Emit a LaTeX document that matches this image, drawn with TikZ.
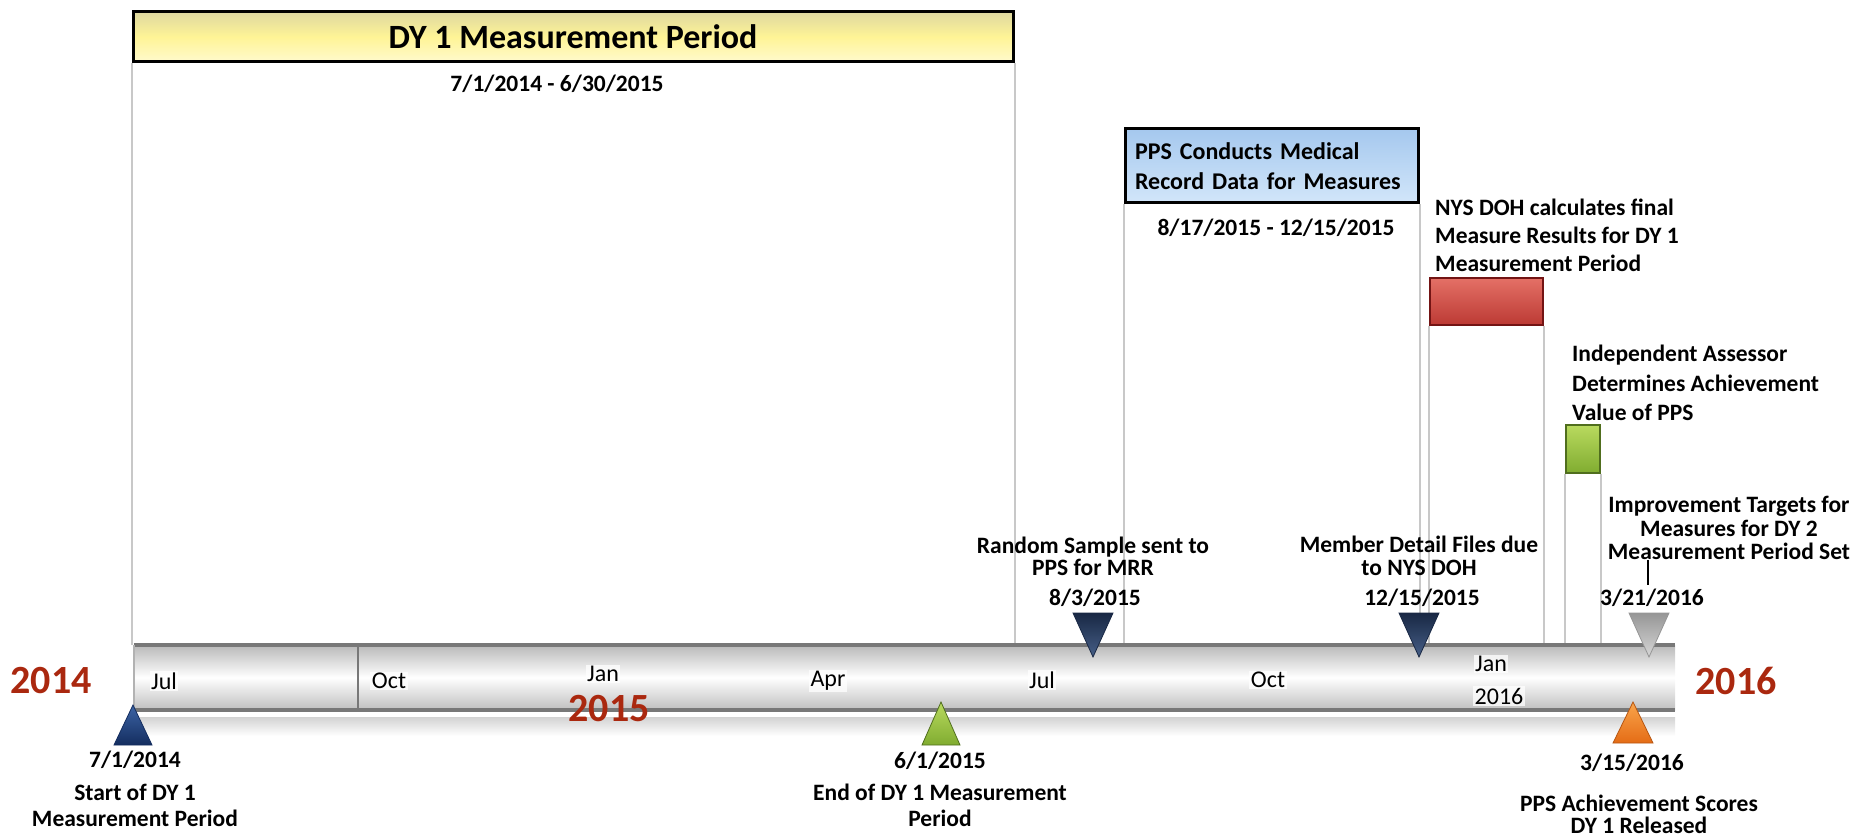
\documentclass[tikz,border=0pt]{standalone}
\usepackage{fontspec}
\setmainfont{Carlito}
\usetikzlibrary{calc}
\definecolor{yrred}{RGB}{170,40,15}
\definecolor{guidegray}{RGB}{200,200,200}
\definecolor{bardark}{RGB}{120,120,120}
\definecolor{yA}{RGB}{222,216,160}
\definecolor{yB}{RGB}{255,244,150}
\definecolor{yC}{RGB}{255,250,205}
\definecolor{bA}{RGB}{165,200,238}
\definecolor{bB}{RGB}{210,230,250}
\definecolor{rA}{RGB}{228,112,102}
\definecolor{rB}{RGB}{188,58,52}
\definecolor{rD}{RGB}{115,20,20}
\definecolor{gA}{RGB}{185,218,95}
\definecolor{gB}{RGB}{128,172,48}
\definecolor{gD}{RGB}{80,110,30}
\definecolor{navyA}{RGB}{70,95,135}
\definecolor{navyB}{RGB}{25,40,68}
\definecolor{blueA}{RGB}{60,100,165}
\definecolor{blueB}{RGB}{20,45,95}
\definecolor{orA}{RGB}{250,165,75}
\definecolor{orB}{RGB}{228,108,22}
\definecolor{grA}{RGB}{215,215,215}
\definecolor{grB}{RGB}{150,150,150}
\begin{document}
\begin{tikzpicture}[x=1pt,y=-1pt,
  lbl/.style={font=\fontsize{23.5}{#1}\selectfont\bfseries, align=center, inner sep=0pt},
  lbl/.default=24,
  guide/.style={draw=guidegray, line width=2pt},
  month/.style={font=\fontsize{24}{26}\selectfont, inner sep=1.5pt, fill=white, fill opacity=0.75, text opacity=1},
  yearlbl/.style={font=\fontsize{40}{44}\selectfont\bfseries, text=yrred, inner sep=0pt},
  tickline/.style={draw=black, line width=1.5pt}]
\useasboundingbox (0,0) rectangle (1873,837);

% period boxes
\node[draw=black, line width=3pt, top color=yA, bottom color=yC, middle color=yB,
      minimum width=880pt, minimum height=50pt, inner sep=0pt,
      font=\fontsize{34}{36}\selectfont\bfseries] (ybox) at (573,37) {DY 1 Measurement Period};
\node[lbl] (r1) at (557,84) {7/1/2014 - 6/30/2015};

\node[draw=black, line width=3pt, top color=bA, bottom color=bB,
      text width=273pt, inner xsep=10pt, inner ysep=0pt, minimum height=74pt, align=left,
      font=\fontsize{24}{30}\selectfont\bfseries] (bbox) at (1271.5,166) {PPS Conducts Medical\\Record Data for Measures};
\node[lbl] (r2) at (1276,228) {8/17/2015 - 12/15/2015};

\node[draw=rD, line width=2pt, top color=rA, bottom color=rB,
      minimum width=113pt, minimum height=47pt, inner sep=0pt] (rbox) at (1486.5,301.5) {};
\node[lbl=28, align=left, anchor=west] (nys) at (1435,235) {NYS DOH calculates final\\Measure Results for DY 1\\Measurement Period};

\node[draw=gD, line width=2pt, top color=gA, bottom color=gB,
      minimum width=34pt, minimum height=48pt, inner sep=0pt] (gbox) at (1583,449) {};
\node[lbl=29.5, align=left, anchor=west] (ia) at (1572,383) {Independent Assessor\\Determines Achievement\\Value of PPS};

% timeline bar
\node[minimum width=1541pt, minimum height=65pt, inner sep=0pt,
      top color=gray!55, bottom color=gray!50, middle color=white] (bar) at (904.5,677.5) {};

% guide lines from period boxes to the bar
\draw[guide] (ybox.south west) -- (ybox.south west |- bar.north);
\draw[guide] (ybox.south east) -- (ybox.south east |- bar.north);
\draw[guide] (bbox.south west) -- (bbox.south west |- bar.north);
\draw[guide] (bbox.south east) -- (bbox.south east |- bar.north);
\draw[guide] (rbox.south west) -- (rbox.south west |- bar.north);
\draw[guide] (rbox.south east) -- (rbox.south east |- bar.north);
\draw[guide] (gbox.south west) -- (gbox.south west |- bar.north);
\draw[guide] (gbox.south east) -- (gbox.south east |- bar.north);

% bar edges and reflection
\draw[bardark, line width=4pt] (bar.north west) -- (bar.north east);
\draw[bardark, line width=4pt] (bar.south west) -- (bar.south east);
\draw[bardark, line width=2.5pt] (358,645) -- (358,710);
\draw[gray!60, line width=2pt] (bar.north west) -- (bar.south west);
\shade[top color=gray!35, bottom color=white] (140,717) rectangle (1675,736);

% month labels
\node[month] (m1) at (164,681) {Jul};
\node[month] (m2) at (389,681) {Oct};
\node[month] (m3) at (603,674) {Jan};
\node[month] (m4) at (828,681) {Apr};
\node[month] (m5) at (1042,680) {Jul};
\node[month] (m6) at (1268,680) {Oct};
\node[month] (m7) at (1491,664) {Jan};
\node[month] (m8) at (1499,696) {2016};

% year labels
\node[yearlbl] (y14) at (51,681) {2014};
\node[yearlbl] (y15) at (609,709) {2015};
\node[yearlbl] (y16) at (1736,681) {2016};

% milestone triangles
\path[top color=blueA, bottom color=blueB, draw=blueB, line width=0.8pt] (114,745) -- (133,705) -- (152,745) -- cycle;
\path[top color=gA, bottom color=gB, draw=gD, line width=0.8pt] (922,745) -- (941,702) -- (960,745) -- cycle;
\path[top color=orA, bottom color=orB, draw=orB!80!black, line width=0.8pt] (1613,743) -- (1633,702) -- (1653,743) -- cycle;
\path[top color=navyB, bottom color=navyA, draw=navyB, line width=0.8pt] (1073,613) -- (1113,613) -- (1093,657) -- cycle;
\path[top color=navyB, bottom color=navyA, draw=navyB, line width=0.8pt] (1399,613) -- (1439,613) -- (1419,657) -- cycle;
\path[top color=grB, bottom color=grA, draw=grB, line width=0.8pt] (1629,613) -- (1669,613) -- (1649,657) -- cycle;

% milestone labels
\node[lbl] (d0) at (135,760) {7/1/2014};
\node[lbl=26] (t0) at (135,805) {Start of DY 1\\Measurement Period};
\node[lbl] (d1) at (940,761) {6/1/2015};
\node[lbl=26] (t1) at (940,805) {End of DY 1 Measurement\\Period};
\node[lbl] (d4) at (1632,763) {3/15/2016};
\node[lbl=22] (t4) at (1639,814) {PPS Achievement Scores\\DY 1 Released};
\node[lbl=22] (t2) at (1093,556) {Random Sample sent to\\PPS for MRR};
\node[lbl] (d2) at (1095,598) {8/3/2015};
\node[lbl=23] (t3) at (1419,556) {Member Detail Files due\\to NYS DOH};
\node[lbl] (d3) at (1422,598) {12/15/2015};
\node[lbl=23.5] (t5) at (1729,528) {Improvement Targets for\\Measures for DY 2\\Measurement Period Set};
\node[lbl] (d5) at (1652,598) {3/21/2016};
\coordinate (k1) at (1648,560);
\coordinate (k2) at (1648,585);
\draw[tickline] (k1) -- (k2);
\end{tikzpicture}
\end{document}
